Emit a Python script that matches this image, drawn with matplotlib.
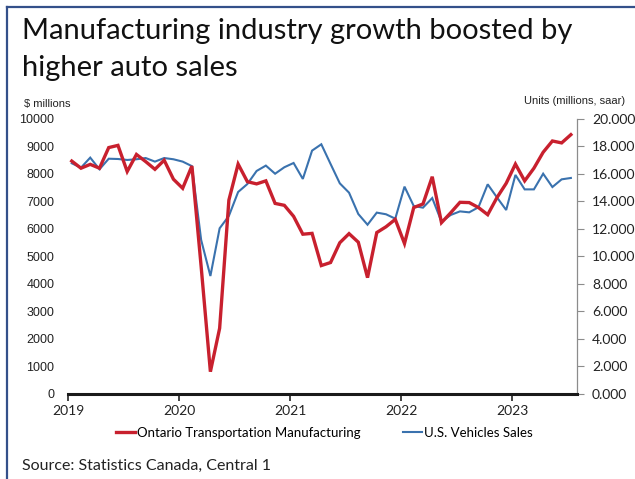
import matplotlib
matplotlib.use("Agg")
import matplotlib.pyplot as plt
from matplotlib.lines import Line2D

# Monthly series, Jan 2019 - Jul 2023
ontario_mfg = [8470, 8210, 8350, 8210, 8960, 9040, 8090, 8710, 8450, 8170, 8500, 7810,
               7480, 8290, 4630, 810, 2390, 7050, 8360, 7720, 7640, 7750, 6930, 6860,
               6460, 5810, 5840, 4670, 4780, 5500, 5830, 5520, 4230, 5870, 6080, 6350,
               5470, 6780, 6910, 7900, 6230, 6590, 6970, 6960, 6780, 6520, 7140, 7660,
               8360, 7750, 8210, 8790, 9200, 9130, 9430]
us_vehicle_sales = [16.78, 16.46, 17.19, 16.34, 17.11, 17.09, 17.02, 17.07, 17.16, 16.90, 17.16, 17.07,
                    16.90, 16.57, 11.20, 8.58, 12.05, 12.95, 14.69, 15.27, 16.22, 16.61, 16.02, 16.49,
                    16.80, 15.64, 17.70, 18.16, 16.73, 15.32, 14.64, 13.09, 12.31, 13.19, 13.07, 12.75,
                    15.08, 13.67, 13.55, 14.25, 12.53, 13.02, 13.28, 13.21, 13.58, 15.25, 14.30, 13.38,
                    15.93, 14.88, 14.88, 16.02, 15.05, 15.61, 15.71]
year_labels = ["2019", "2020", "2021", "2022", "2023"]
left_ticks = [0, 1000, 2000, 3000, 4000, 5000, 6000, 7000, 8000, 9000, 10000]
right_ticks = [0, 2, 4, 6, 8, 10, 12, 14, 16, 18, 20]

RED = "#C8202E"
BLUE = "#3A72AE"
FRAME = "#34508A"
TEXT = "#222222"
SANS = ["Lato", "DejaVu Sans"]
ARIAL = ["Liberation Sans", "DejaVu Sans"]

fig = plt.figure(figsize=(6.35, 4.79), dpi=100)
fig.patch.set_facecolor("white")

ax = fig.add_axes([0.1076, 0.1775, 0.9082 - 0.1076, 0.7516 - 0.1775])
ax2 = ax.twinx()

months = [i + 0.37 for i in range(len(ontario_mfg))]

ax2.plot(months, us_vehicle_sales, color=BLUE, lw=1.5, solid_joinstyle="miter", zorder=2)
ax.plot(months, ontario_mfg, color=RED, lw=2.4, solid_joinstyle="miter", zorder=3)
ax.set_zorder(ax2.get_zorder() + 1)
ax.patch.set_visible(False)

ax.set_xlim(0, 55)
ax.set_ylim(0, 10000)
ax2.set_ylim(0, 20)

# Left axis: labels only
ax.set_yticks(left_ticks)
ax.set_yticklabels([str(v) for v in left_ticks], fontfamily=ARIAL, fontsize=9, color=TEXT)
ax.tick_params(axis="y", length=0, pad=10)

# Right axis: grey spine with outward ticks
ax2.set_yticks(right_ticks)
ax2.set_yticklabels([f"{v:.3f}" for v in right_ticks], fontfamily=SANS, fontsize=10, color=TEXT)
ax2.tick_params(axis="y", length=5, width=0.8, color="#8C8C8C", pad=6)

# x axis with year ticks
ax.set_xticks([0, 12, 24, 36, 48])
ax.set_xticklabels(year_labels, fontfamily=SANS, fontsize=10, color=TEXT)
ax.tick_params(axis="x", length=5, width=1.2, color="#222222", pad=3)

for a in (ax, ax2):
    for s in ("top", "left"):
        a.spines[s].set_visible(False)
ax.spines["right"].set_visible(False)
ax2.spines["bottom"].set_visible(False)
ax.spines["bottom"].set_color("#1A1A1A")
ax.spines["bottom"].set_linewidth(2.2)
ax2.spines["right"].set_color("#8C8C8C")
ax2.spines["right"].set_linewidth(0.9)

# Axis unit captions
fig.text(24 / 635, 1 - 104 / 479, "$ millions", fontfamily=ARIAL, fontsize=8,
         color=TEXT, va="center", ha="left")
fig.text(625 / 635, 1 - 101 / 479, "Units (millions, saar)", fontfamily=ARIAL, fontsize=8,
         color=TEXT, va="center", ha="right")

# Title
fig.text(22 / 635, 1 - 31 / 479, "Manufacturing industry growth boosted by", fontfamily=SANS,
         fontsize=21, color="#111111", va="center", ha="left")
fig.text(22 / 635, 1 - 68 / 479, "higher auto sales", fontfamily=SANS,
         fontsize=21, color="#111111", va="center", ha="left")

# Legend
handles = [Line2D([], [], color=RED, lw=2.4), Line2D([], [], color=BLUE, lw=1.5)]
fig.legend(handles, ["Ontario Transportation Manufacturing", "U.S. Vehicles Sales"],
           loc="center", bbox_to_anchor=(324 / 635, 1 - 433 / 479), ncol=2, frameon=False,
           prop={"family": SANS, "size": 9.5}, handlelength=1.5, handletextpad=0.1,
           columnspacing=3.2)

# Source
fig.text(22 / 635, 1 - 466 / 479, "Source: Statistics Canada, Central 1", fontfamily=SANS,
         fontsize=11.5, color=TEXT, va="center", ha="left")

# Frame lines along the top and left edges
fig.add_artist(Line2D([7 / 635, 7 / 635], [0, 1 - 7 / 479], transform=fig.transFigure,
                      color=FRAME, lw=1.6))
fig.add_artist(Line2D([7 / 635, 1], [1 - 7 / 479, 1 - 7 / 479], transform=fig.transFigure,
                      color=FRAME, lw=1.6))

fig.savefig("out.png", dpi=100, facecolor="white")
